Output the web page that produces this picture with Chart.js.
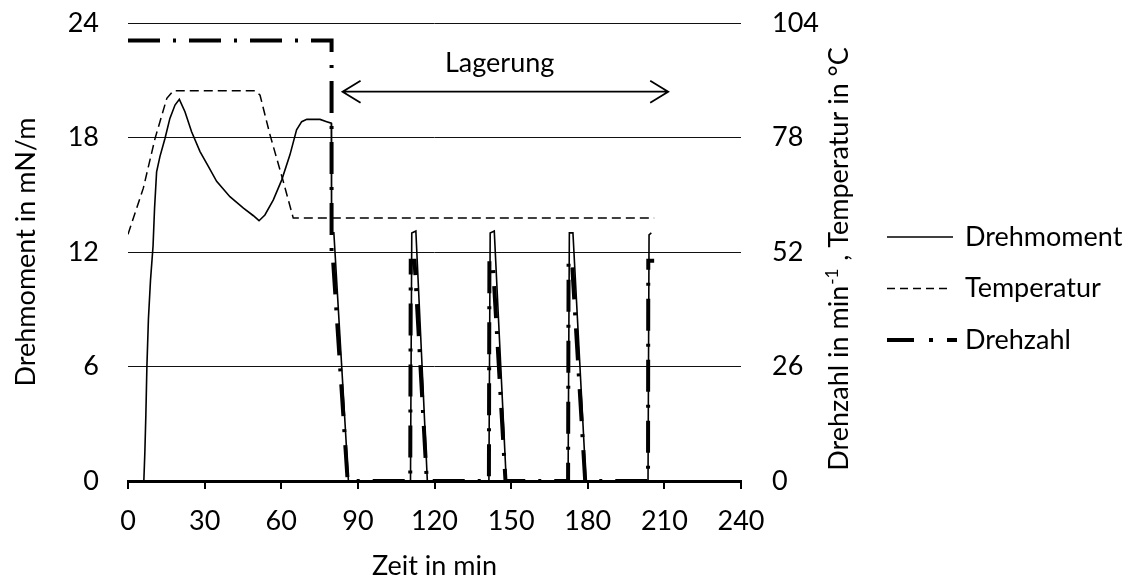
<!DOCTYPE html>
<html>
<head>
<meta charset="utf-8">
<title>Drehmoment, Temperatur und Drehzahl</title>
<script src="https://cdn.jsdelivr.net/npm/chart.js@4.4.1/dist/chart.umd.min.js"></script>
<style>
  html, body { margin: 0; padding: 0; background: #fff; }
</style>
</head>
<body>
<canvas id="chart" width="1128" height="585"></canvas>
<script>
var FONT = "Lato, 'Open Sans', sans-serif";
var FONT_SIZE = 27;

// Achsenteilung
var xTicks = [0, 30, 60, 90, 120, 150, 180, 210, 240];
var yLinksTicks = [0, 6, 12, 18, 24];
var yRechtsTicks = [0, 26, 52, 78, 104];

// Drehmoment in mN/m ueber Zeit in min
var drehmomentZeit = [0, 6.2, 6.6, 7.0, 7.4, 8.0, 8.8, 9.8, 10.4, 11.2, 12.5, 14.5, 16.4, 18.4, 20.1,
  22.3, 24.9, 28.2, 31.4, 34.7, 39.9, 45.2, 49.1, 51.3, 53.6, 56.9, 60.2, 63.4, 66, 68, 70, 75.2,
  77.8, 79.6, 79.7, 80.6, 86.3,
  110.6, 111.1, 112.7, 117.2, 141.3, 141.8, 143.4, 148.1, 172.3, 172.8, 174.2, 179.3,
  203.6, 204, 204.9];
var drehmomentWert = [0, 0, 1.5, 3.5, 6, 8.5, 10.5, 12.3, 14.3, 16.2, 17, 17.96, 19, 19.7, 20,
  19.35, 18.3, 17.26, 16.5, 15.7, 14.9, 14.3, 13.9, 13.64, 13.94, 14.73, 15.78, 17.09, 18.4, 18.83, 18.95, 18.95,
  18.83, 18.75, 13, 13, 0,
  0, 13, 13.1, 0, 0, 13, 13.1, 0, 0, 13, 13, 0,
  0, 12.9, 13];

// Temperatur in °C
var temperaturZeit = [0, 6, 10.6, 15.2, 17.7, 50, 51.7, 55.6, 60.8, 64.7, 206];
var temperaturWert = [56, 66.5, 77.8, 86.9, 88.6, 88.6, 87.6, 78.6, 68, 59.7, 59.7];

// Drehzahl in 1/min
var drehzahlZeit = [0, 79.7, 79.7, 80.3, 86, 110.5, 110.7, 112.2, 117, 141.3, 141.5, 142.8, 147.8,
  172.3, 172.5, 173.8, 179, 203.6, 203.7, 206];
var drehzahlWert = [100, 100, 50, 50, 0, 0, 50, 50, 0, 0, 50, 50, 0,
  0, 50, 50, 0, 0, 50, 50];

// Lagerungsphase (Pfeil) in min bzw. mN/m
var lagerungVon = 84;
var lagerungBis = 211.5;
var lagerungHoehe = 20.4;
var lagerungTextZeit = 145.5;
var lagerungTextHoehe = 21.9;

function punkte(zeit, wert) {
  return zeit.map(function (t, i) { return { x: t, y: wert[i] }; });
}

function setzeTicks(werte) {
  return function (axis) {
    axis.ticks = werte.map(function (v) { return { value: v }; });
  };
}

// feste Breite fuer die y-Achsen, ohne Zusatzrand oben/unten durch das Tick-Padding
function festeBreite(breite) {
  return function (s) {
    s.width = breite;
    s.paddingTop = 0;
    s.paddingBottom = 0;
  };
}

var schrift = { family: FONT, size: FONT_SIZE };

// Pfeil "Lagerung"
var lagerungPlugin = {
  id: 'lagerung',
  afterDatasetsDraw: function (chart) {
    var ctx = chart.ctx;
    var sx = chart.scales.x, sy = chart.scales.y;
    var x1 = sx.getPixelForValue(lagerungVon);
    var x2 = sx.getPixelForValue(lagerungBis);
    var py = sy.getPixelForValue(lagerungHoehe);
    ctx.save();
    ctx.strokeStyle = '#000';
    ctx.lineWidth = 1.8;
    ctx.beginPath();
    ctx.moveTo(x1, py);
    ctx.lineTo(x2, py);
    ctx.moveTo(x1 + 18, py - 11);
    ctx.lineTo(x1, py);
    ctx.lineTo(x1 + 18, py + 11);
    ctx.moveTo(x2 - 18, py - 11);
    ctx.lineTo(x2, py);
    ctx.lineTo(x2 - 18, py + 11);
    ctx.stroke();
    ctx.fillStyle = '#000';
    ctx.font = FONT_SIZE + 'px ' + FONT;
    ctx.textAlign = 'center';
    ctx.textBaseline = 'middle';
    ctx.fillText('Lagerung', sx.getPixelForValue(lagerungTextZeit), sy.getPixelForValue(lagerungTextHoehe));
    ctx.restore();
  }
};

// rechter Achsentitel, von unten nach oben gelesen, mit hochgestellter -1
var rechterTitelPlugin = {
  id: 'rechterTitel',
  afterDraw: function (chart) {
    var ctx = chart.ctx;
    var s = chart.scales.y1;
    var teil1 = 'Drehzahl in min';
    var hoch = '-1';
    var teil2 = ' , Temperatur in °C';
    ctx.save();
    ctx.fillStyle = '#000';
    ctx.textBaseline = 'alphabetic';
    ctx.textAlign = 'left';
    var gross = FONT_SIZE + 'px ' + FONT;
    var klein = Math.round(FONT_SIZE * 0.62) + 'px ' + FONT;
    ctx.font = gross;
    var w1 = ctx.measureText(teil1).width;
    var w3 = ctx.measureText(teil2).width;
    ctx.font = klein;
    var w2 = ctx.measureText(hoch).width + 2;
    var gesamt = w1 + w2 + w3;
    var cx = s.right - 21;
    var cy = (s.top + s.bottom) / 2 + 7;
    ctx.translate(cx, cy);
    ctx.rotate(-Math.PI / 2);
    var x = -gesamt / 2, base = 9;
    ctx.font = gross;
    ctx.fillText(teil1, x, base);
    ctx.font = klein;
    ctx.fillText(hoch, x + w1 + 1, base - 10);
    ctx.font = gross;
    ctx.fillText(teil2, x + w1 + w2, base);
    ctx.restore();
  }
};

// Legende rechts neben dem Diagramm
var legendePlugin = {
  id: 'legende',
  afterDraw: function (chart) {
    var ctx = chart.ctx;
    var x0 = 887, textX = 965, y0 = 237, abstand = 51.5;
    chart.data.datasets.forEach(function (ds, i) {
      var y = y0 + i * abstand;
      ctx.save();
      ctx.strokeStyle = ds.borderColor;
      ctx.lineWidth = ds.borderWidth;
      ctx.setLineDash(ds.legendDash);
      ctx.beginPath();
      ctx.moveTo(x0, y);
      ctx.lineTo(x0 + ds.legendLaenge, y);
      ctx.stroke();
      ctx.setLineDash([]);
      ctx.fillStyle = '#000';
      ctx.font = FONT_SIZE + 'px ' + FONT;
      ctx.textAlign = 'left';
      ctx.textBaseline = 'middle';
      ctx.fillText(ds.label, textX, y);
      ctx.restore();
    });
  }
};

new Chart(document.getElementById('chart').getContext('2d'), {
  type: 'line',
  data: {
    datasets: [{
      label: 'Drehmoment',
      data: punkte(drehmomentZeit, drehmomentWert),
      yAxisID: 'y',
      borderColor: '#000',
      borderWidth: 1.6,
      pointRadius: 0,
      legendDash: [],
      legendLaenge: 66,
      order: 2
    }, {
      label: 'Temperatur',
      data: punkte(temperaturZeit, temperaturWert),
      yAxisID: 'y1',
      borderColor: '#000',
      borderWidth: 1.5,
      borderDash: [9, 5],
      pointRadius: 0,
      legendDash: [8, 5],
      legendLaenge: 61,
      order: 3
    }, {
      label: 'Drehzahl',
      data: punkte(drehzahlZeit, drehzahlWert),
      yAxisID: 'y1',
      borderColor: '#000',
      borderWidth: 4,
      borderDash: [32, 13, 3, 13],
      pointRadius: 0,
      legendDash: [27, 15, 4, 14],
      legendLaenge: 70,
      order: 1
    }]
  },
  options: {
    responsive: false,
    animation: false,
    layout: { padding: { left: 0, right: 268, top: 23, bottom: 0 } },
    plugins: {
      legend: { display: false },
      tooltip: { enabled: false }
    },
    scales: {
      x: {
        type: 'linear',
        position: 'bottom',
        min: 0,
        max: 240,
        afterBuildTicks: setzeTicks(xTicks),
        afterFit: function (s) { s.height = 104; },
        grid: { drawOnChartArea: false, drawTicks: true, tickLength: 8, color: '#000', lineWidth: 2 },
        border: { color: '#000', width: 3 },
        ticks: { color: '#000', font: schrift, padding: 16, maxRotation: 0 },
        title: { display: true, text: 'Zeit in min', color: '#000', font: schrift, padding: { top: 0, bottom: 3 } }
      },
      y: {
        position: 'left',
        min: 0,
        max: 24,
        afterBuildTicks: setzeTicks(yLinksTicks),
        afterFit: festeBreite(128),
        grid: { color: '#111', lineWidth: 1, drawTicks: false },
        border: { display: false },
        ticks: { color: '#000', font: schrift, padding: 29 },
        title: { display: true, text: 'Drehmoment in mN/m', color: '#000', font: schrift, padding: { top: 10, bottom: 0 } }
      },
      y1: {
        position: 'right',
        min: 0,
        max: 104,
        afterBuildTicks: setzeTicks(yRechtsTicks),
        afterFit: festeBreite(119),
        grid: { drawOnChartArea: false, drawTicks: false },
        border: { display: false },
        ticks: { color: '#000', font: schrift, padding: 31 },
        title: { display: false }
      }
    }
  },
  plugins: [lagerungPlugin, rechterTitelPlugin, legendePlugin]
});
</script>
</body>
</html>
